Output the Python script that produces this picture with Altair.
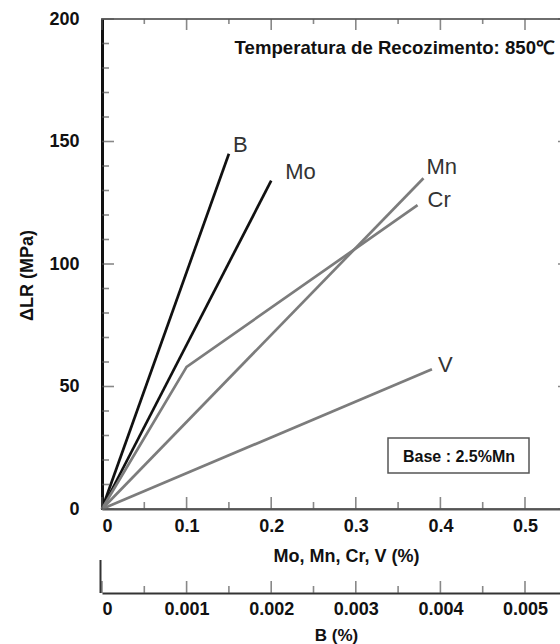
import altair as alt
import pandas as pd

# ---------------- data ----------------
ELEMENTS = ["B", "Mo", "Mn", "Cr", "V"]
B_PCT = [0.0, 0.0015]          # B content (%), plotted against the B (%) axis
B_DLR = [0, 145]
MO_PCT = [0.0, 0.20]
MO_DLR = [0, 134]
MN_PCT = [0.0, 0.38]
MN_DLR = [0, 135]
CR_PCT = [0.0, 0.10, 0.373]
CR_DLR = [0, 58, 124]
V_PCT = [0.0, 0.39]
V_DLR = [0, 57]

X_MAJOR = [0, 0.1, 0.2, 0.3, 0.4, 0.5]
X_MINOR = [0.05, 0.15, 0.25, 0.35, 0.45, 0.55]
Y_MAJOR = [0, 50, 100, 150, 200]
Y_MINOR = [10, 20, 30, 40, 60, 70, 80, 90, 110, 120, 130, 140, 160, 170, 180, 190]
B_MAJOR = [0, 0.001, 0.002, 0.003, 0.004, 0.005]
B_MINOR = [0.0005, 0.0015, 0.0025, 0.0035, 0.0045]

# ---------------- styles ----------------
COLORS = ["#111111", "#111111", "#7c7c7c", "#7c7c7c", "#7c7c7c"]
FONT = "Liberation Sans"
TICK = "#555555"
W, H = 468, 490
XMAX = 0.5532
LABEL_OFFSETS = {"B": (4, -9), "Mo": (14, -9), "Mn": (3, -11), "Cr": (10, -5), "V": (6, -4)}

series = {"B": ([v * 100 for v in B_PCT], B_DLR), "Mo": (MO_PCT, MO_DLR),
          "Mn": (MN_PCT, MN_DLR), "Cr": (CR_PCT, CR_DLR), "V": (V_PCT, V_DLR)}
rows = []
for el, (xs, ys) in series.items():
    for xv, yv in zip(xs, ys):
        rows.append({"el": el, "x": xv, "y": yv})
df = pd.DataFrame(rows)
ends = df.groupby("el", sort=False).tail(1)

xs_main = alt.Scale(domain=[0, XMAX], nice=False, zero=False)
ys_main = alt.Scale(domain=[0, 200], nice=False)
xs_b = alt.Scale(domain=[0, XMAX / 100], nice=False, zero=False)

X_AXIS = alt.Axis(
    orient="bottom", values=X_MAJOR, ticks=False, tickSize=0,
    labelExpr="datum.value == 0 ? '0' : format(datum.value, '.1f')",
    labelFont=FONT, labelFontSize=18, labelFontWeight="bold", labelColor="#111",
    labelPadding=8, domainColor="#555", domainWidth=2,
    title="Mo, Mn, Cr, V (%)", titleFont=FONT, titleFontSize=18,
    titleFontWeight="bold", titleColor="#111", titleX=244, titleY=47,
    titleBaseline="middle", titleAlign="center")
Y_AXIS = alt.Axis(
    orient="left", values=Y_MAJOR, ticks=False, tickSize=0,
    labelFont=FONT, labelFontSize=18, labelFontWeight="bold", labelColor="#111",
    labelPadding=23, labelBaseline="middle", domainColor="#111", domainWidth=3,
    title="ΔLR (MPa)", titleFont=FONT, titleFontSize=18, titleFontWeight="bold",
    titleColor="#111", titleX=-75, titleY=256, titleAngle=-90,
    titleAlign="center", titleBaseline="middle")
B_AXIS = alt.Axis(
    orient="bottom", offset=84, values=B_MAJOR, ticks=False, tickSize=0,
    labelExpr="datum.value == 0 ? '0' : format(datum.value, '.3f')",
    labelFont=FONT, labelFontSize=18, labelFontWeight="bold", labelColor="#111",
    labelPadding=7, domainColor="#333", domainWidth=2,
    title="B (%)", titleFont=FONT, titleFontSize=17, titleFontWeight="bold",
    titleColor="#111", titleX=234, titleY=42, titleBaseline="middle",
    titleAlign="center")

lines = alt.Chart(df).mark_line(strokeWidth=2.7).encode(
    x=alt.X("x:Q", scale=xs_main, axis=X_AXIS),
    y=alt.Y("y:Q", scale=ys_main, axis=Y_AXIS),
    color=alt.Color("el:N", scale=alt.Scale(domain=ELEMENTS, range=COLORS), legend=None),
)

label_layers = []
for el in ELEMENTS:
    dx, dy = LABEL_OFFSETS[el]
    label_layers.append(
        alt.Chart(ends[ends.el == el]).mark_text(
            align="left", baseline="middle", dx=dx, dy=dy, font=FONT,
            fontSize=22, color="#333").encode(
            x=alt.X("x:Q", scale=xs_main, axis=X_AXIS),
            y=alt.Y("y:Q", scale=ys_main, axis=Y_AXIS),
            text="el:N"))


def vticks(vals, field, scale, axis, yc, size):
    return alt.Chart(pd.DataFrame({field: vals})).mark_tick(
        orient="vertical", size=size, thickness=1.6, color=TICK).encode(
        x=alt.X(f"{field}:Q", scale=scale, axis=axis), y=alt.value(yc))


def hticks(vals, xc, size):
    return alt.Chart(pd.DataFrame({"y": vals})).mark_tick(
        orient="horizontal", size=size, thickness=1.6, color=TICK).encode(
        y=alt.Y("y:Q", scale=ys_main, axis=Y_AXIS), x=alt.value(xc))


tick_layers = [
    vticks(X_MAJOR, "x", xs_main, X_AXIS, 5.5, 11),          # top, inward
    vticks(X_MINOR, "x", xs_main, X_AXIS, 2.5, 5),
    vticks(X_MAJOR, "x", xs_main, X_AXIS, H - 6, 12),        # bottom, inward
    vticks(X_MINOR, "x", xs_main, X_AXIS, H - 3.5, 7),
    hticks(Y_MAJOR, 6, 12),                                   # left, inward
    hticks(Y_MINOR, 3.5, 7),
    hticks(Y_MAJOR, W - 6, 12),                               # right, inward
]

one = pd.DataFrame({"k": [0]})
title_txt = alt.Chart(one).mark_text(
    text="Temperatura de Recozimento: 850℃", align="right", baseline="middle",
    font=FONT, fontSize=18.6, fontWeight="bold", color="#111").encode(
    x=alt.value(453), y=alt.value(29))
box = alt.Chart(one).mark_rect(fill="white", stroke="#555", strokeWidth=1.5).encode(
    x=alt.value(286), x2=alt.value(427), y=alt.value(419), y2=alt.value(454))
box_txt = alt.Chart(one).mark_text(
    text="Base : 2.5%Mn", align="center", baseline="middle", font=FONT,
    fontSize=16, fontWeight="bold", color="#111").encode(
    x=alt.value(357), y=alt.value(438))

main = alt.layer(lines, *label_layers, *tick_layers, title_txt, box, box_txt)

secondary = alt.layer(
    vticks(B_MAJOR, "b", xs_b, B_AXIS, H + 84 - 6, 12),
    vticks(B_MINOR, "b", xs_b, B_AXIS, H + 84 - 3.5, 7),
    alt.Chart(one).mark_rule(color="#333", strokeWidth=2).encode(
        x=alt.value(-1.5), y=alt.value(H + 51), y2=alt.value(H + 84)),
)

chart = alt.layer(main, secondary).resolve_scale(x="independent").properties(
    width=W, height=H,
    autosize=alt.AutoSizeParams(type="none"),
    padding={"left": 102, "top": 19, "right": -10, "bottom": 135},
    background="white",
).configure_view(stroke="#6e6e6e", strokeWidth=2).configure_axis(grid=False)

chart.save("out.html", embed_options={"renderer": "svg", "actions": False})
